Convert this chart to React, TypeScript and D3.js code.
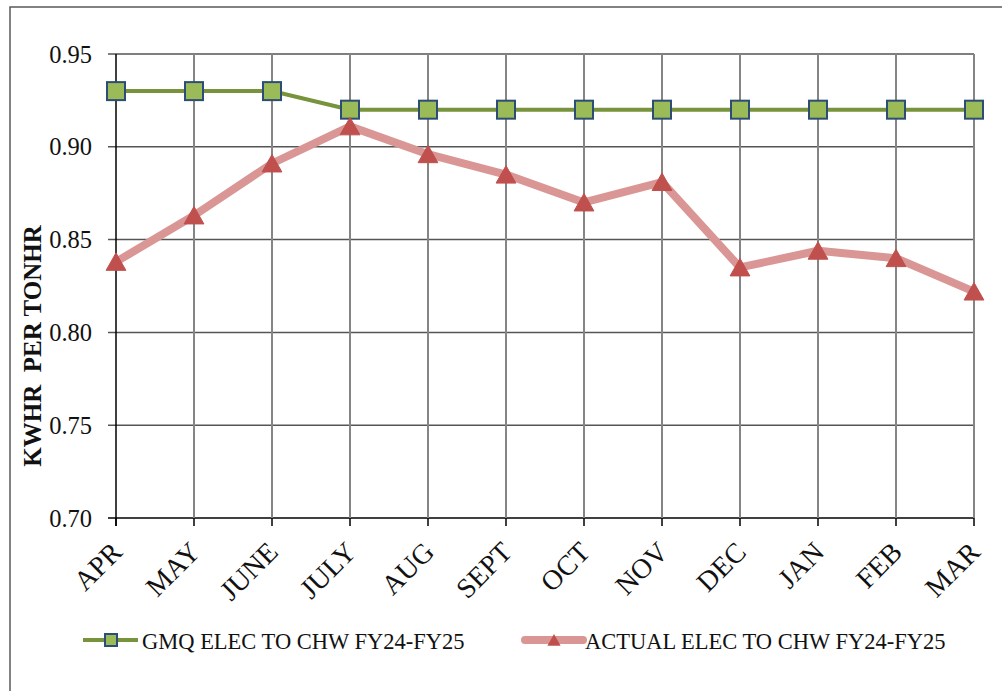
import * as d3 from "d3";

// months on the category axis
const months = ["APR", "MAY", "JUNE", "JULY", "AUG", "SEPT", "OCT", "NOV", "DEC", "JAN", "FEB", "MAR"];
// GMQ target values
const gmqValues = [0.93, 0.93, 0.93, 0.92, 0.92, 0.92, 0.92, 0.92, 0.92, 0.92, 0.92, 0.92];
// actual values
const actualValues = [0.838, 0.863, 0.891, 0.911, 0.896, 0.885, 0.87, 0.881, 0.835, 0.844, 0.84, 0.822];
const yTicks = [0.7, 0.75, 0.8, 0.85, 0.9, 0.95];
const gmqName = "GMQ ELEC TO CHW FY24-FY25";
const actualName = "ACTUAL ELEC TO CHW FY24-FY25";
const yTitle = "KWHR\u00a0\u00a0PER TONHR";

const W = 1002;
const H = 691;
const FONT = "'Liberation Serif', 'Times New Roman', serif";

export default function App() {
  const x = d3.scalePoint<string>().domain(months).range([116, 974]);
  const y = d3.scaleLinear().domain([0.7, 0.95]).range([518, 54]);

  const line = d3
    .line<number>()
    .x((_, i) => x(months[i]) as number)
    .y((d) => y(d));

  const triangle = (cx: number, cy: number, s: number) =>
    `M${cx},${cy - s * 0.5} L${cx + s * 0.55},${cy + s * 0.47} L${cx - s * 0.55},${cy + s * 0.47} Z`;

  const [x0, x1] = x.range();

  return (
    <svg
      width={W}
      height={H}
      style={{ position: "absolute", left: 0, top: 0, background: "#fff" }}
      fontFamily={FONT}
    >
      {/* 外枠 */}
      <rect x={10} y={7} width={W} height={H} fill="none" stroke="#595959" strokeWidth={1.5} />

      {/* horizontal grid */}
      <g>
        {yTicks.map((t) => (
          <g key={t}>
            <line x1={x0 - 8} x2={x1} y1={y(t)} y2={y(t)} stroke={t === 0.7 ? "#000" : "#555"} strokeWidth={1.5} />
            <text x={92} y={y(t)} textAnchor="end" dominantBaseline="central" fontSize={24.5} fill="#111">
              {t.toFixed(2)}
            </text>
          </g>
        ))}
      </g>

      {/* vertical grid + x labels */}
      <g>
        {months.map((m, i) => {
          const px = x(m) as number;
          return (
            <g key={m}>
              {i > 0 && (
                <line x1={px} x2={px} y1={y(0.95)} y2={y(0.7)} stroke="#858585" strokeWidth={2} />
              )}
              <line x1={px} x2={px} y1={y(0.7)} y2={y(0.7) + 8} stroke="#000" strokeWidth={1.5} />
              <text
                transform={`translate(${px + 1},${y(0.7) + 29}) rotate(-45)`}
                textAnchor="end"
                dominantBaseline="central"
                fontSize={28}
                fill="#111"
              >
                {m}
              </text>
            </g>
          );
        })}
        <line x1={x0} x2={x0} y1={y(0.95)} y2={y(0.7) + 8} stroke="#000" strokeWidth={1.5} />
      </g>

      {/* y title */}
      <text
        transform={`translate(32,346) rotate(-90)`}
        textAnchor="middle"
        dominantBaseline="central"
        fontSize={25}
        fontWeight="bold"
        fill="#111"
      >
        {yTitle}
      </text>

      {/* GMQ series */}
      <path d={line(gmqValues) ?? ""} fill="none" stroke="#77933C" strokeWidth={4} />
      {gmqValues.map((v, i) => (
        <rect
          key={i}
          x={(x(months[i]) as number) - 9}
          y={y(v) - 9}
          width={18}
          height={18}
          fill="#9BBB59"
          stroke="#2C4D75"
          strokeWidth={2}
        />
      ))}

      {/* actual series */}
      <path d={line(actualValues) ?? ""} fill="none" stroke="#D99694" strokeWidth={8} strokeLinejoin="round" />
      {actualValues.map((v, i) => (
        <path key={i} d={triangle(x(months[i]) as number, y(v), 18)} fill="#C0504D" stroke="#C0504D" strokeWidth={1} />
      ))}

      {/* legend */}
      <g>
        <line x1={83} x2={138} y1={640} y2={640} stroke="#77933C" strokeWidth={4} />
        <rect x={105} y={634} width={12} height={12} fill="#9BBB59" stroke="#2C4D75" strokeWidth={2} />
        <text x={142} y={641} dominantBaseline="central" fontSize={22.5} fill="#111">
          {gmqName}
        </text>

        <line x1={525} x2={583} y1={640} y2={640} stroke="#D99694" strokeWidth={8} strokeLinecap="round" />
        <path d={triangle(554, 640, 12)} fill="#C0504D" />
        <text x={585} y={641} dominantBaseline="central" fontSize={22.5} fill="#111">
          {actualName}
        </text>
      </g>
    </svg>
  );
}
